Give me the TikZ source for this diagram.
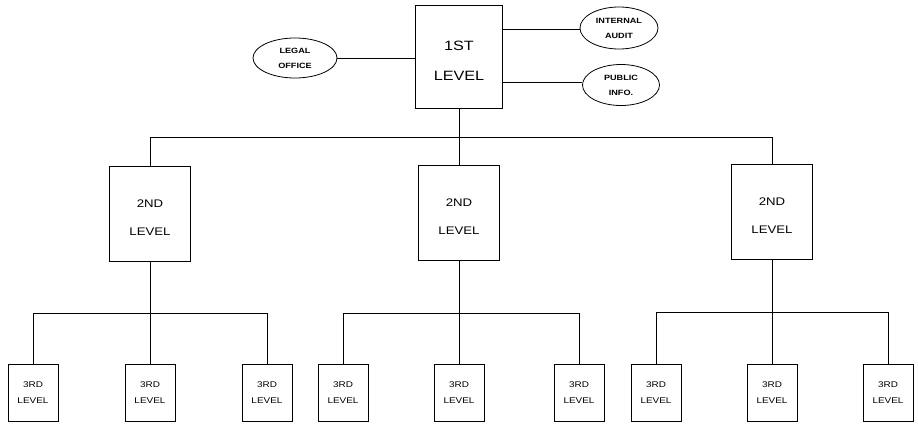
\documentclass[tikz,border=0pt]{standalone}
\usepackage{fontspec}
\newfontfamily\plotfont[FakeStretch=1.2]{Liberation Sans}
\usetikzlibrary{shapes.geometric}
\begin{document}
\begin{tikzpicture}[x=1pt,y=-1pt,
  line width=0.8pt,
  every node/.style={font=\plotfont, align=center, inner sep=0pt},
  every label/.style={align=center, inner sep=0pt},
  boxone/.style={draw, line width=0.95pt, minimum width=87pt, minimum height=103pt,
    label={[yshift=-4pt, font=\plotfont\fontsize{13.5}{30}\selectfont]center:#1}},
  boxtwo/.style={draw, line width=0.95pt, minimum width=81pt, minimum height=95pt,
    label={[yshift=-4pt, font=\plotfont\fontsize{11}{28}\selectfont]center:#1}},
  boxthree/.style={draw, line width=0.95pt, minimum width=50pt, minimum height=57pt,
    label={[yshift=-0.5pt, font=\plotfont\fontsize{8.3}{16}\selectfont]center:#1}},
  oval/.style={draw, ellipse, font=\plotfont\bfseries\fontsize{7.6}{15}\selectfont},
  link/.style={line width=0.7pt}]
\useasboundingbox (0,0) rectangle (918,423);
% top
\node[boxone={1ST\\LEVEL}] (top) at (459,56.5) {};
\node[oval, minimum width=84pt, minimum height=40pt] (legal) at (295,58) {LEGAL\\OFFICE};
\node[oval, minimum width=78pt, minimum height=42pt] (audit) at (619,28) {INTERNAL\\AUDIT};
\node[oval, minimum width=77pt, minimum height=41pt] (pub) at (621,85) {PUBLIC\\INFO.};
\draw[link] (legal.east) -- (top.west |- legal.east);
\draw[link] (top.east |- 0,29) -- (audit.west |- 0,29);
\draw[link] (top.east |- 0,82) -- (pub.west |- 0,82);
% second level
\node[boxtwo={2ND\\LEVEL}] (sa) at (150,214) {};
\node[boxtwo={2ND\\LEVEL}] (sb) at (459,213) {};
\node[boxtwo={2ND\\LEVEL}] (sc) at (772,212) {};
\coordinate (bar1) at (459,137);
\draw[link] (top.south) -- (bar1);
\draw[link] (sa.north) |- (bar1);
\draw[link] (sc.north) |- (bar1);
\draw[link] (sb.north) -- (bar1);
% third level
\foreach \n/\x in {ta1/33,ta2/150,ta3/267,tb1/343,tb2/459,tb3/579,tc1/656,tc2/772,tc3/888}{
  \node[boxthree={3RD\\LEVEL}] (\n) at (\x,392.5) {};
}
\coordinate (bara) at (150,313);
\coordinate (barb) at (459,313);
\coordinate (barc) at (772,312);
\draw[link] (sa.south) -- (ta2.north);
\draw[link] (ta1.north) |- (ta3.north |- bara) -- (ta3.north);
\draw[link] (sb.south) -- (tb2.north);
\draw[link] (tb1.north) |- (tb3.north |- barb) -- (tb3.north);
\draw[link] (sc.south) -- (tc2.north);
\draw[link] (tc1.north) |- (tc3.north |- barc) -- (tc3.north);
\end{tikzpicture}
\end{document}
